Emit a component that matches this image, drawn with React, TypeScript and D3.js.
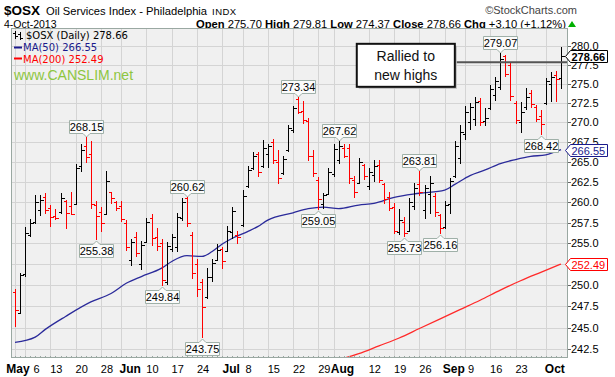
import React from "react";
import * as d3 from "d3";

// ---------- data ----------
const holidays = ["2013-05-27", "2013-07-04", "2013-09-02"];
const fmt = d3.timeFormat("%Y-%m-%d");
const days: string[] = d3.timeDay
  .range(new Date(2013, 4, 2), new Date(2013, 9, 5))
  .filter((d) => d.getDay() !== 0 && d.getDay() !== 6)
  .map((d) => fmt(d))
  .filter((s) => !holidays.includes(s));

const opens = [
  249.2, 246.7, 251.3, 256.0, 257.6, 259.0, 260.6, 259.3, 258.3, 258.8,
  260.2, 259.5, 259.8, 264.5, 267.0, 266.0, 259.6, 258.8, 258.6, 261.2,
  260.0, 259.5, 257.5, 253.0, 255.8, 252.5, 255.2, 258.0, 255.8, 255.0,
  250.3, 254.3, 254.5, 258.0, 260.5, 256.0, 252.5, 250.4, 248.6, 251.0,
  253.0, 254.3, 254.0, 256.4, 256.0, 257.2, 262.0, 264.3, 266.0, 264.5,
  266.0, 267.5, 265.0, 263.6, 266.5, 269.0, 273.0, 271.5, 270.2, 265.8,
  262.7, 259.8, 261.0, 263.5, 265.3, 266.8, 266.8, 262.8, 262.4, 264.6,
  262.0, 263.4, 264.6, 262.3, 260.6, 259.4, 256.4, 257.6, 256.5, 259.5,
  262.3, 259.0, 261.0, 260.8, 258.4, 257.0, 259.8, 263.2, 265.5, 268.5,
  270.0, 270.5, 272.8, 270.2, 271.8, 273.5, 274.6, 278.6, 277.5, 272.5,
  270.0, 272.0, 273.8, 272.0, 270.8, 272.5, 275.0, 276.2, 275.7,
];
const highs = [
  249.5, 251.4, 257.0, 257.9, 260.9, 260.9, 261.1, 259.65, 259.2, 261.1,
  260.3, 261.3, 264.8, 267.2, 268.15, 267.6, 260.1, 259.4, 263.9, 261.3,
  260.2, 260.1, 257.8, 255.5, 256.4, 255.3, 258.1, 258.6, 256.9, 255.5,
  255.1, 256.1, 258.7, 260.5, 260.62, 256.4, 253.1, 250.7, 252.0, 253.1,
  254.9, 254.5, 257.1, 259.4, 256.5, 261.5, 264.5, 266.3, 266.3, 267.8,
  267.2, 267.9, 266.5, 265.8, 269.7, 272.1, 273.34, 272.8, 270.6, 266.55,
  263.1, 261.1, 264.3, 267.2, 267.62, 267.2, 267.2, 263.2, 265.5, 264.8,
  264.3, 265.3, 265.3, 262.4, 261.3, 259.85, 259.2, 258.2, 260.5, 262.4,
  263.81, 262.1, 263.2, 261.1, 258.6, 260.1, 263.0, 267.6, 269.7, 272.1,
  272.5, 273.3, 273.1, 271.9, 274.8, 275.9, 279.07, 278.8, 277.9, 272.8,
  272.6, 274.4, 274.2, 272.2, 271.6, 275.8, 276.5, 276.7, 279.81,
];
const lows = [
  245.1, 246.6, 251.0, 255.7, 257.3, 258.3, 258.6, 257.0, 257.8, 258.6,
  256.7, 258.4, 259.7, 263.7, 264.9, 259.1, 255.38, 256.4, 258.5, 259.8,
  258.9, 257.6, 254.0, 252.2, 253.3, 251.8, 255.0, 254.7, 254.1, 249.84,
  250.0, 253.9, 253.9, 257.7, 257.0, 250.7, 248.6, 243.75, 248.4, 250.3,
  252.9, 251.9, 253.9, 255.5, 254.9, 257.0, 261.8, 264.0, 263.1, 264.3,
  264.3, 264.8, 262.3, 263.4, 266.3, 268.6, 271.1, 269.8, 265.1, 263.1,
  259.05, 259.2, 260.9, 263.1, 264.8, 265.5, 262.3, 260.5, 262.4, 262.8,
  261.5, 262.5, 262.4, 259.8, 258.9, 256.1, 256.0, 255.73, 256.4, 259.0,
  260.7, 257.9, 258.5, 258.2, 256.16, 256.7, 258.5, 263.0, 264.8, 267.8,
  269.1, 269.6, 269.6, 269.6, 271.6, 272.8, 274.2, 275.9, 272.8, 269.8,
  268.7, 271.6, 271.8, 270.1, 268.42, 272.2, 272.6, 272.6, 274.37,
];
const closes = [
  247.0, 251.2, 256.2, 257.5, 260.0, 260.3, 259.0, 258.2, 258.0, 260.5,
  258.7, 258.6, 264.3, 266.5, 265.6, 259.8, 258.3, 257.4, 262.6, 260.5,
  259.3, 257.9, 254.5, 255.1, 253.8, 254.8, 257.6, 255.6, 254.6, 250.6,
  254.6, 255.7, 258.2, 260.0, 257.4, 251.4, 249.5, 247.4, 251.0, 252.6,
  254.2, 252.8, 256.5, 258.9, 255.8, 260.8, 264.0, 265.8, 263.8, 266.8,
  267.0, 265.2, 263.0, 265.4, 269.3, 271.8, 271.4, 270.3, 265.8, 263.6,
  260.4, 260.9, 263.8, 266.6, 267.0, 265.8, 263.0, 261.3, 265.0, 263.2,
  263.8, 264.5, 262.8, 260.4, 259.3, 256.5, 257.8, 256.2, 260.0, 261.8,
  261.2, 261.8, 262.4, 258.8, 256.8, 259.7, 262.6, 267.0, 268.8, 271.3,
  272.0, 272.6, 270.0, 270.6, 274.3, 275.3, 278.3, 276.3, 273.4, 270.3,
  271.4, 273.3, 272.4, 270.4, 269.8, 275.3, 275.9, 275.56, 278.66,
];

const ma50Days = [
  "2013-05-02", "2013-05-08", "2013-05-10", "2013-05-16", "2013-05-23",
  "2013-05-30", "2013-06-04", "2013-06-07", "2013-06-13", "2013-06-17",
  "2013-06-20", "2013-06-25", "2013-06-27", "2013-07-01", "2013-07-03",
  "2013-07-09", "2013-07-11", "2013-07-15", "2013-07-22", "2013-07-25",
  "2013-07-30", "2013-08-02", "2013-08-08", "2013-08-13", "2013-08-19",
  "2013-08-26", "2013-09-03", "2013-09-05", "2013-09-10", "2013-09-13",
  "2013-09-18", "2013-09-23", "2013-09-26", "2013-10-01", "2013-10-04",
];
const ma50Vals = [
  243.3, 243.9, 244.8, 246.3, 248.0, 249.0, 250.2, 251.0, 252.0, 252.8,
  253.5, 253.4, 254.0, 254.9, 255.6, 256.4, 257.0, 257.8, 258.7, 259.2,
  259.4, 259.2, 259.65, 259.85, 260.6, 261.1, 261.5, 262.2, 263.3, 264.0,
  264.8, 265.3, 265.7, 265.9, 266.55,
];
const ma200Days = [
  "2013-08-02", "2013-08-08", "2013-08-14", "2013-08-20", "2013-08-26",
  "2013-08-30", "2013-09-06", "2013-09-12", "2013-09-18", "2013-09-24",
  "2013-09-30", "2013-10-04",
];
const ma200Vals = [241.3, 242.0, 242.9, 243.8, 244.9, 246.0, 247.1, 248.2, 249.4, 250.5, 251.5, 252.49];

const tickDays = [
  "2013-05-02", "2013-05-06", "2013-05-13", "2013-05-20", "2013-05-28",
  "2013-06-03", "2013-06-10", "2013-06-17", "2013-06-24", "2013-07-01",
  "2013-07-08", "2013-07-15", "2013-07-22", "2013-07-29", "2013-08-01",
  "2013-08-12", "2013-08-19", "2013-08-26", "2013-09-03", "2013-09-09",
  "2013-09-16", "2013-09-23", "2013-10-01",
];
const tickLabels = [
  "May", "6", "13", "20", "28", "Jun", "10", "17", "24", "Jul", "8", "15",
  "22", "29", "Aug", "12", "19", "26", "Sep", "9", "16", "23", "Oct",
];
const yTickVals = d3.range(0, 16).map((i) => 242.5 + 2.5 * i);

const highLabelDays = ["2013-05-22", "2013-06-20", "2013-07-23", "2013-08-02", "2013-08-26", "2013-09-18"];
const lowLabelDays = ["2013-05-24", "2013-06-13", "2013-06-25", "2013-07-29", "2013-08-21", "2013-08-30", "2013-09-30"];

const lastClose = 278.66;
const ma50Last = 266.55;
const ma200Last = 252.49;
const noteLevel = 277.8;
const noteLines = ["Rallied to", "new highs"];

// ---------- layout ----------
const W = 615, H = 377;
const PL = 11, PR = 568, PT = 28, PB = 358;
const F = "'Liberation Sans', Arial, Helvetica, sans-serif";
const FL = "'DejaVu Sans', Verdana, sans-serif";

export default function App() {
  const x = d3.scalePoint<string>().domain(days).range([15, 561]);
  const y = d3.scaleLog().domain([242.5, 280]).range([349.3, 45.7]);
  const X = (d: string) => x(d) as number;
  const cr = (v: number) => Math.round(v) + 0.5;

  const line = d3
    .line<[string, number]>()
    .x((d) => X(d[0]))
    .y((d) => y(d[1]))
    .curve(d3.curveMonotoneX);
  const ma50Path = line(ma50Days.map((d, i) => [d, ma50Vals[i]]));
  const ma200Path = line(ma200Days.map((d, i) => [d, ma200Vals[i]]));

  const markerVals = [lastClose, ma50Last, ma200Last];
  const hiddenTick = (v: number) => markerVals.some((m) => Math.abs(y(m) - y(v)) < 5);

  const valueLabel = (d: string, above: boolean, key: string) => {
    const i = days.indexOf(d);
    const v = above ? highs[i] : lows[i];
    const cx = cr(X(d));
    const yv = y(v);
    const w = 34, h = 13;
    const l = cx - w / 2, r = cx + w / 2;
    let p: string, ty: number;
    if (above) {
      const b = Math.round(yv - 4) + 0.5;
      const t = b - h;
      p = `M${l},${t}H${r}V${b}H${cx + 3.5}L${cx},${b + 3.5}L${cx - 3.5},${b}H${l}Z`;
      ty = t + 10.5;
    } else {
      const t = Math.round(yv + 4) + 0.5;
      const b = t + h;
      p = `M${l},${t}H${cx - 3.5}L${cx},${t - 3.5}L${cx + 3.5},${t}H${r}V${b}H${l}Z`;
      ty = t + 10.5;
    }
    return (
      <g key={key}>
        <path d={p} fill="#fbfbfb" stroke="#9fb0a8" strokeWidth={1} />
        <text x={cx} y={ty} textAnchor="middle" fontSize={11} fontFamily={F} fill="#000">
          {v.toFixed(2)}
        </text>
      </g>
    );
  };

  const marker = (v: number, color: string, bold: boolean) => {
    const yv = Math.round(y(v)) + 0.5;
    const x0 = 565.5;
    const p = `M${x0},${yv}L${x0 + 5},${yv - 6}H${x0 + 42}V${yv + 6}H${x0 + 5}Z`;
    return (
      <g>
        <path d={p} fill="#fff" stroke={color} strokeWidth={1} />
        <text x={x0 + 6} y={yv + 4} fontSize={11} fontFamily={F} fill={color} fontWeight={bold ? "bold" : "normal"}>
          {v.toFixed(2)}
        </text>
      </g>
    );
  };

  const boxL = X("2013-08-08") - 2;
  const boxR = X("2013-09-05");
  const boxT = y(280.25);
  const boxB = y(274.6);
  const boxCx = (boxL + boxR) / 2;

  return (
    <svg width={W} height={H} style={{ position: "absolute", left: 0, top: 0 }} fontFamily={F}>
      <rect x={0} y={0} width={W} height={H} fill="#fff" />

      {/* header */}
      <text x={4} y={15} fontSize={13.5} fontWeight="bold" fill="#000">$OSX</text>
      <text x={46} y={15} fontSize={11.2} fill="#000">Oil Services Index - Philadelphia</text>
      <text x={212} y={15} fontSize={9.5} fill="#000" letterSpacing={0.5}>INDX</text>
      <text x={577} y={14} fontSize={11} fill="#444" textAnchor="end">©StockCharts.com</text>
      <text x={4} y={27.5} fontSize={10.5} fill="#000">4-Oct-2013</text>
      <text x={566} y={27.5} fontSize={11.2} fill="#000" textAnchor="end">
        <tspan fontWeight="bold">Open</tspan>
        <tspan> 275.70 </tspan>
        <tspan fontWeight="bold">High</tspan>
        <tspan> 279.81 </tspan>
        <tspan fontWeight="bold">Low</tspan>
        <tspan> 274.37 </tspan>
        <tspan fontWeight="bold">Close</tspan>
        <tspan> 278.66 </tspan>
        <tspan fontWeight="bold">Chg</tspan>
        <tspan> +3.10 (+1.12%)</tspan>
      </text>
      <path d="M568,27L572,21L576,27Z" fill="#00b000" />

      {/* plot area */}
      <defs>
        <clipPath id="plotclip">
          <rect x={PL} y={PT} width={PR - PL} height={PB - PT} />
        </clipPath>
      </defs>
      <rect x={PL} y={PT} width={PR - PL} height={PB - PT} fill="#f0f0f0" />
      <g stroke="#d4d4d4" strokeWidth={1} shapeRendering="crispEdges">
        {yTickVals.map((v) => (
          <line key={"hy" + v} x1={PL} x2={PR} y1={cr(y(v))} y2={cr(y(v))} />
        ))}
        {tickDays.map((d) => (
          <line key={"vx" + d} x1={cr(X(d))} x2={cr(X(d))} y1={PT} y2={PB} />
        ))}
      </g>

      {/* legend */}
      <g stroke="#000" strokeWidth={1} shapeRendering="crispEdges">
        <line x1={15.5} x2={15.5} y1={31} y2={39} />
        <line x1={13} x2={15.5} y1={33.5} y2={33.5} />
        <line x1={15.5} x2={18} y1={36.5} y2={36.5} />
        <line x1={20.5} x2={20.5} y1={32} y2={40} />
        <line x1={18} x2={20.5} y1={34.5} y2={34.5} />
        <line x1={20.5} x2={23} y1={38.5} y2={38.5} />
      </g>
      <text x={26} y={39} fontSize={10} fontFamily={FL} fill="#000">$OSX (Daily) 278.66</text>
      <line x1={14} x2={22} y1={47.5} y2={47.5} stroke="#1a1a8c" strokeWidth={2} />
      <text x={23} y={51} fontSize={10} fontFamily={FL} fill="#1a1a8c">MA(50) 266.55</text>
      <line x1={14} x2={22} y1={58.5} y2={58.5} stroke="#ff0000" strokeWidth={2} />
      <text x={23} y={62.5} fontSize={10} fontFamily={FL} fill="#ff0000">MA(200) 252.49</text>
      <text x={14} y={80} fontSize={14} fill="#8dc63f">www.CANSLIM.net</text>

      <g clipPath="url(#plotclip)">
        {/* moving averages */}
        <path d={ma50Path || ""} fill="none" stroke="#2a2a9a" strokeWidth={1.3} />
        <path d={ma200Path || ""} fill="none" stroke="#ff2a2a" strokeWidth={1.3} />

        {/* OHLC bars */}
        <g shapeRendering="crispEdges">
          {days.map((d, i) => {
            const cx = cr(X(d));
            const up = i === 0 ? closes[0] >= opens[0] : closes[i] >= closes[i - 1];
            const col = up ? "#000" : "#ff0000";
            const yo = cr(y(opens[i]));
            const yc = cr(y(closes[i]));
            return (
              <g key={d} stroke={col} strokeWidth={1}>
                <line x1={cx} x2={cx} y1={y(highs[i])} y2={y(lows[i])} />
                <line x1={cx - 3} x2={cx} y1={yo} y2={yo} />
                <line x1={cx} x2={cx + 3} y1={yc} y2={yc} />
              </g>
            );
          })}
        </g>

        {/* annotation line */}
        <line x1={boxR} x2={PR} y1={y(noteLevel)} y2={y(noteLevel)} stroke="#555" strokeWidth={2} />
      </g>

      {/* value labels */}
      {highLabelDays.map((d) => valueLabel(d, true, "h" + d))}
      {lowLabelDays.map((d) => valueLabel(d, false, "l" + d))}

      {/* annotation box */}
      <rect x={boxL + 2} y={boxT + 2} width={boxR - boxL} height={boxB - boxT} fill="#bbb" />
      <rect x={boxL} y={boxT} width={boxR - boxL} height={boxB - boxT} fill="#fff" stroke="#111" strokeWidth={2} />
      <text x={boxCx} y={boxT + 17.5} textAnchor="middle" fontSize={14} fill="#111">{noteLines[0]}</text>
      <text x={boxCx} y={boxT + 36} textAnchor="middle" fontSize={14} fill="#111">{noteLines[1]}</text>

      {/* frame */}
      <rect x={PL + 0.5} y={PT + 0.5} width={PR - PL - 1} height={PB - PT - 1} fill="none" stroke="#9aa8a2" strokeWidth={1} />

      {/* bottom minor ticks */}
      <g stroke="#9aa8a2" strokeWidth={1} shapeRendering="crispEdges">
        {days.map((d) => (
          <line key={"bt" + d} x1={cr(X(d))} x2={cr(X(d))} y1={PB - 2} y2={PB} />
        ))}
      </g>

      {/* right axis */}
      <g>
        {yTickVals.map((v) => (
          <g key={"ty" + v}>
            <line x1={PR} x2={PR + 3} y1={cr(y(v))} y2={cr(y(v))} stroke="#666" />
            {!hiddenTick(v) && (
              <text x={571} y={y(v) + 4} fontSize={11} fill="#000">{v.toFixed(1)}</text>
            )}
          </g>
        ))}
      </g>
      {marker(ma200Last, "#ff0000", false)}
      {marker(ma50Last, "#1a1a8c", false)}
      {marker(lastClose, "#000", true)}

      {/* x axis labels */}
      {tickDays.map((d, i) => {
        const lab = tickLabels[i];
        const isMonth = isNaN(Number(lab));
        const dx = lab === "May" ? 3 : lab === "6" ? 11.5 : isMonth ? 9 : 6;
        return (
          <text
            key={"xl" + d}
            x={X(d) + dx}
            y={373}
            textAnchor="middle"
            fontSize={isMonth ? 12 : 11}
            fontWeight={isMonth ? "bold" : "normal"}
            fill="#000"
          >
            {lab}
          </text>
        );
      })}
    </svg>
  );
}
